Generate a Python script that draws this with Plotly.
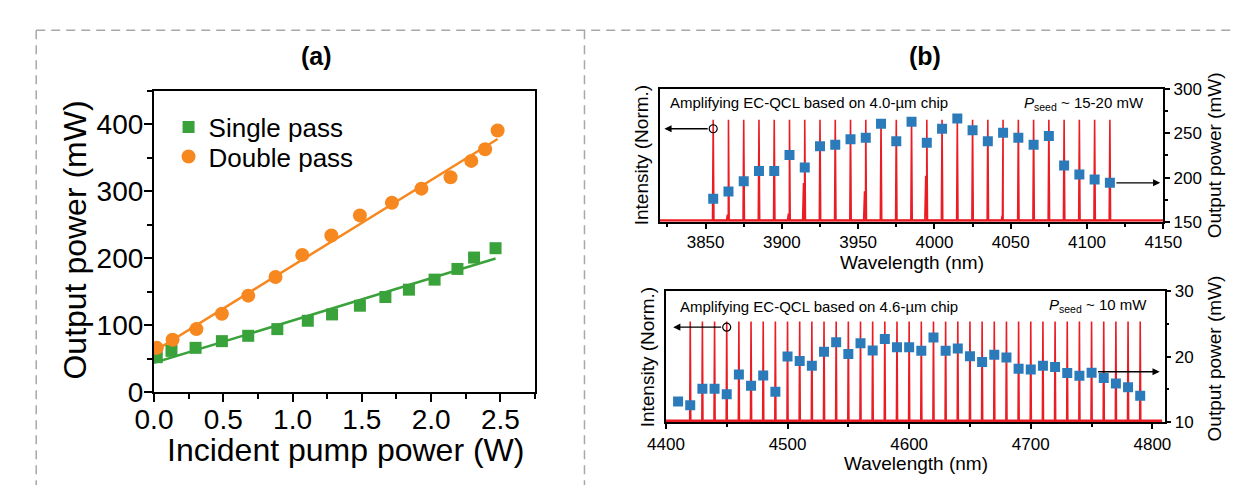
import plotly.graph_objects as go

W, H = 1247, 493

# ---------------- data: panel (a) ----------------
pump_single = [0.02, 0.126, 0.30, 0.49, 0.68, 0.89, 1.11, 1.285, 1.486, 1.67, 1.84, 2.025, 2.19, 2.31, 2.465]
power_single = [52, 61.5, 66, 76, 84, 94, 106.5, 116, 129, 142, 153, 168, 184, 201, 215]
pump_double = [0.02, 0.134, 0.306, 0.49, 0.68, 0.877, 1.07, 1.28, 1.486, 1.717, 1.93, 2.14, 2.29, 2.39, 2.48]
power_double = [66, 78, 94, 117, 144, 172, 205, 234, 264, 283, 304, 321, 345.5, 363, 391]

# ---------------- data: panel (b) top (4.0 um chip) ----------------
wl_40 = [3855, 3865, 3875, 3885, 3895, 3905, 3915, 3925, 3935, 3945, 3955, 3965, 3975, 3985,
         3995, 4005, 4015, 4025, 4035, 4045, 4055, 4065, 4075, 4085, 4095, 4105, 4115]
pow_40 = [176, 184.3, 195.9, 207.5, 207.5, 225.5, 211.4, 235.3, 237.1, 243.3, 245, 261, 241, 263,
          239.3, 255.2, 266.7, 253.4, 241, 250.8, 245, 237.1, 246.9, 213.6, 203.5, 197.7, 194.1]
peak_40 = wl_40
side_40_wl = [3864.3, 3904.3, 3914.2, 3954.2, 3994.3, 4044.4]
side_40_int = [0.07, 0.08, 0.38, 0.30, 0.45, 0.06]

# ---------------- data: panel (b) bottom (4.6 um chip) ----------------
wl_46 = [4410, 4420, 4430, 4440, 4450, 4460, 4470, 4480, 4490, 4500, 4510, 4520, 4530, 4540,
         4550, 4560, 4570, 4580, 4590, 4600, 4610, 4620, 4630, 4640, 4650, 4660, 4670, 4680,
         4690, 4700, 4710, 4720, 4730, 4740, 4750, 4760, 4770, 4780, 4790]
pow_46 = [13.15, 12.57, 15.08, 15.08, 14.26, 17.26, 15.57, 17.12, 14.65, 20.02, 19.35, 18.62,
          20.75, 22.2, 20.41, 22.06, 20.95, 22.69, 21.43, 21.43, 20.9, 22.93, 20.9, 21.24, 20.08,
          19.2, 20.31, 19.88, 18.14, 18.04, 18.62, 18.43, 17.51, 17.07, 17.55, 16.73, 15.91,
          15.33, 14.02]
peak_46 = [4420, 4430, 4440, 4450, 4460, 4470, 4480, 4490, 4500, 4510, 4520, 4530, 4540, 4550,
           4560, 4570, 4580, 4590, 4600, 4610, 4620, 4630, 4640, 4650, 4660, 4670, 4680, 4690,
           4700, 4710, 4720, 4730, 4740, 4750, 4760, 4770, 4780, 4790]

GREEN = "#3aa23a"
ORANGE = "#f7871f"
BLUE = "#2b7bba"
RED = "#ea1c24"
FONT = "Arial, Liberation Sans, sans-serif"


def px(x):
    return x / W


def py(y):
    return 1 - y / H


def spectrum(centers, side_wl, side_int, hw=0.45):
    pts = []
    for c in centers:
        pts.append((c - hw, 0.012))
        pts.append((c, 1.0))
        pts.append((c + hw, 0.012))
    for s, h in zip(side_wl, side_int):
        pts.append((s - 0.6, 0.012))
        pts.append((s, h))
        pts.append((s + 0.6, 0.012))
    pts.sort(key=lambda p: p[0])
    return [p[0] for p in pts], [p[1] for p in pts]


def linfit(x, y):
    n = len(x)
    mx = sum(x) / n
    my = sum(y) / n
    sxy = sum((a - mx) * (b - my) for a, b in zip(x, y))
    sxx = sum((a - mx) ** 2 for a in x)
    k = sxy / sxx
    return k, my - k * mx


fig = go.Figure()

# ---- panel (a)
ks, bs = linfit(pump_single, power_single)
kd, bd = linfit(pump_double, power_double)
fig.add_trace(go.Scatter(x=[0, max(pump_single)], y=[bs, bs + ks * max(pump_single)], mode="lines",
                         line=dict(color=GREEN, width=2.5), showlegend=False, xaxis="x", yaxis="y"))
fig.add_trace(go.Scatter(x=[0, max(pump_double)], y=[bd, bd + kd * max(pump_double)], mode="lines",
                         line=dict(color=ORANGE, width=2.5), showlegend=False, xaxis="x", yaxis="y"))
fig.add_trace(go.Scatter(x=pump_single, y=power_single, mode="markers", name="Single pass",
                         marker=dict(symbol="square", size=12, color=GREEN), xaxis="x", yaxis="y",
                         legend="legend"))
fig.add_trace(go.Scatter(x=pump_double, y=power_double, mode="markers", name="Double pass",
                         marker=dict(symbol="circle", size=14, color=ORANGE), xaxis="x", yaxis="y",
                         legend="legend2"))

# ---- panel (b) top
sx, sy = spectrum(peak_40, side_40_wl, side_40_int)
fig.add_trace(go.Scatter(x=[3820, 4150], y=[0.012, 0.012], mode="lines", line=dict(color=RED, width=2.5),
                         showlegend=False, xaxis="x2", yaxis="y2"))
fig.add_trace(go.Scatter(x=sx, y=sy, mode="lines", line=dict(color=RED, width=1.6),
                         showlegend=False, xaxis="x2", yaxis="y2"))
fig.add_trace(go.Scatter(x=[wl_40[0]], y=[0.912], mode="markers",
                         marker=dict(symbol="circle-open", size=8, color="black", line=dict(width=1.2)),
                         showlegend=False, xaxis="x2", yaxis="y2"))
fig.add_trace(go.Scatter(x=wl_40, y=pow_40, mode="markers",
                         marker=dict(symbol="square", size=10, color=BLUE),
                         showlegend=False, xaxis="x2", yaxis="y3"))

# ---- panel (b) bottom
sx2, sy2 = spectrum(peak_46, [], [])
fig.add_trace(go.Scatter(x=[4400, 4808], y=[0.012, 0.012], mode="lines", line=dict(color=RED, width=2.5),
                         showlegend=False, xaxis="x3", yaxis="y4"))
fig.add_trace(go.Scatter(x=sx2, y=sy2, mode="lines", line=dict(color=RED, width=1.6),
                         showlegend=False, xaxis="x3", yaxis="y4"))
fig.add_trace(go.Scatter(x=[4450], y=[0.944], mode="markers",
                         marker=dict(symbol="circle-open", size=8, color="black", line=dict(width=1.2)),
                         showlegend=False, xaxis="x3", yaxis="y4"))
fig.add_trace(go.Scatter(x=wl_46, y=pow_46, mode="markers",
                         marker=dict(symbol="square", size=10, color=BLUE),
                         showlegend=False, xaxis="x3", yaxis="y5"))

axis_common = dict(showgrid=False, zeroline=False, showline=True, linecolor="black",
                   ticks="outside", tickcolor="black", color="black")
leg_common = dict(xanchor="left", yanchor="middle", bgcolor="rgba(0,0,0,0)",
                  font=dict(size=26, family=FONT), itemwidth=30, borderwidth=0)

fig.update_layout(
    width=W, height=H, margin=dict(l=0, r=0, t=0, b=0), autosize=False,
    paper_bgcolor="white", plot_bgcolor="white",
    font=dict(family=FONT, color="black"),
    showlegend=True,
    legend=dict(x=px(146), y=py(116), **leg_common),
    legend2=dict(x=px(146), y=py(147), **leg_common),
    xaxis=dict(**axis_common, domain=[px(131), px(524)], range=[0, 2.75], dtick=0.5, tick0=0,
               tickformat=".1f", ticklen=8, tickwidth=2, linewidth=2.2, mirror=True,
               tickfont=dict(size=28), ticklabelstandoff=-7,
               minor=dict(dtick=0.25, ticks="outside", ticklen=5, tickwidth=2, tickcolor="black"),
               anchor="y"),
    yaxis=dict(**axis_common, domain=[py(395), py(78)], range=[0, 450], dtick=100,
               ticklen=8, tickwidth=2, linewidth=2.2, mirror=True, tickfont=dict(size=28),
               ticklabelstandoff=-5,
               minor=dict(dtick=50, ticks="outside", ticklen=5, tickwidth=2, tickcolor="black"),
               anchor="x"),
    xaxis2=dict(**axis_common, domain=[px(652.7), px(1172)], range=[3820, 4150], dtick=50, tick0=3850,
                ticklen=5, tickwidth=1.5, linewidth=1.8, mirror=True, tickfont=dict(size=17),
                ticklabelstandoff=-1,
                minor=dict(dtick=25, ticks="outside", ticklen=3, tickwidth=1.5, tickcolor="black"),
                anchor="y2"),
    yaxis2=dict(showgrid=False, zeroline=False, showline=True, linecolor="black", linewidth=1.8,
                domain=[py(215.7), py(76)], range=[0, 1.3], showticklabels=False, ticks="",
                anchor="x2"),
    yaxis3=dict(**axis_common, overlaying="y2", side="right", anchor="x2", range=[150, 300],
                dtick=50, ticklen=5, tickwidth=1.5, linewidth=1.8, tickfont=dict(size=17),
                ticklabelstandoff=0,
                minor=dict(dtick=25, ticks="outside", ticklen=3, tickwidth=1.5, tickcolor="black")),
    xaxis3=dict(**axis_common, domain=[px(659), px(1173.3)], range=[4400, 4810], dtick=100, tick0=4400,
                ticklen=5, tickwidth=1.5, linewidth=1.8, mirror=True, tickfont=dict(size=17),
                ticklabelstandoff=1,
                minor=dict(dtick=50, ticks="outside", ticklen=3, tickwidth=1.5, tickcolor="black"),
                anchor="y4"),
    yaxis4=dict(showgrid=False, zeroline=False, showline=True, linecolor="black", linewidth=1.8,
                domain=[py(426.7), py(289)], range=[0, 1.3], showticklabels=False, ticks="",
                anchor="x3"),
    yaxis5=dict(**axis_common, overlaying="y4", side="right", anchor="x3", range=[10, 30],
                dtick=10, ticklen=5, tickwidth=1.5, linewidth=1.8, tickfont=dict(size=17),
                ticklabelstandoff=0,
                minor=dict(dtick=5, ticks="outside", ticklen=3, tickwidth=1.5, tickcolor="black")),
)

ann = []


def text(x, y, s, size, angle=0, xanchor="center", bold=False):
    ann.append(dict(x=px(x), y=py(y), xref="paper", yref="paper", text=("<b>%s</b>" % s) if bold else s,
                    showarrow=False, textangle=angle, xanchor=xanchor, yanchor="middle",
                    font=dict(size=size, family=FONT, color="black")))


text(299, 41, "(a)", 25, bold=True)
text(926, 41, "(b)", 25, bold=True)
text(50, 235, "Output power (mW)", 32, angle=-90)
text(328, 456, "Incident pump power (W)", 32)

text(913, 259, "Wavelength (nm)", 19)
text(634, 146, "Intensity (Norm.)", 19, angle=-90)
text(1225, 146, "Output power (mW)", 19, angle=-90)
text(917, 470, "Wavelength (nm)", 19)
text(640, 358, "Intensity (Norm.)", 19, angle=-90)
text(1225, 360, "Output power (mW)", 19, angle=-90)

text(661, 90, "Amplifying EC-QCL based on 4.0-µm chip", 15, xanchor="left")
text(1154, 91, "<i>P</i><sub>seed</sub> ~ 15-20 mW", 15, xanchor="right")
text(671, 305, "Amplifying EC-QCL based on 4.6-µm chip", 15, xanchor="left")
text(1157, 304, "<i>P</i><sub>seed</sub> ~ 10 mW", 15, xanchor="right")

# arrows
arrow_style = dict(showarrow=True, arrowhead=2, arrowsize=1.1, arrowwidth=1.3, arrowcolor="black", text="")
ann.append(dict(x=3823, y=0.912, ax=wl_40[0], ay=0.912, xref="x2", yref="y2", axref="x2", ayref="y2",
                startstandoff=4, **arrow_style))
ann.append(dict(x=4148, y=pow_40[-1], ax=wl_40[-1], ay=pow_40[-1], xref="x2", yref="y3", axref="x2",
                ayref="y3", startstandoff=5, **arrow_style))
ann.append(dict(x=4406, y=0.944, ax=4450, ay=0.944, xref="x3", yref="y4", axref="x3", ayref="y4",
                startstandoff=4, **arrow_style))
ann.append(dict(x=4806, y=17.7, ax=4750, ay=17.7, xref="x3", yref="y5", axref="x3", ayref="y5",
                startstandoff=5, **arrow_style))

fig.update_layout(annotations=ann)

# dashed frame
dash = dict(color="#a8a8a8", width=1.5, dash="9px,6px")
fig.add_shape(type="line", xref="paper", yref="paper", x0=px(9.5), y0=py(14), x1=1, y1=py(14), line=dash)
fig.add_shape(type="line", xref="paper", yref="paper", x0=px(9.5), y0=py(14), x1=px(9.5), y1=0, line=dash)
fig.add_shape(type="line", xref="paper", yref="paper", x0=px(575), y0=py(14), x1=px(575), y1=0, line=dash)

fig.write_html("out.html")
